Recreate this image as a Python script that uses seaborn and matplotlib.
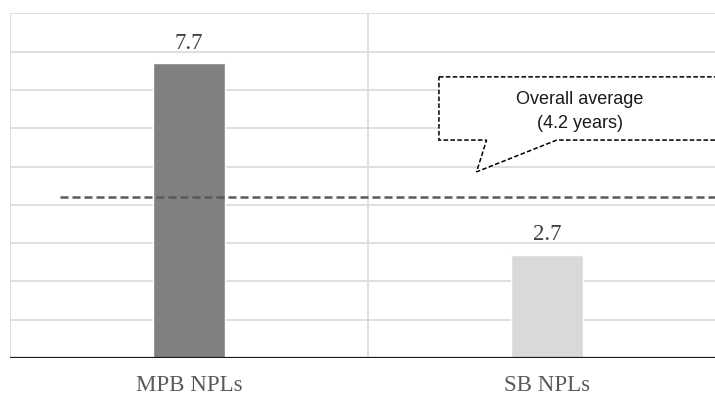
import matplotlib
matplotlib.use("Agg")
import matplotlib.pyplot as plt
from matplotlib.patches import Polygon
import seaborn as sns
import pandas as pd

categories = ["MPB NPLs", "SB NPLs"]
years = [7.7, 2.7]
bar_colors = ["#808080", "#d9d9d9"]
overall_average = 4.2
callout_lines = ["Overall average", "(4.2 years)"]

df = pd.DataFrame({"category": categories, "years": years})

sns.set_theme(style="white")
fig = plt.figure(figsize=(7.15, 3.96), dpi=100)
ax = fig.add_axes([10 / 715, 38 / 396, 705 / 715, 344.7 / 396])

sns.barplot(data=df, x="category", y="years", hue="category",
            palette=bar_colors, width=0.2, ax=ax, legend=False,
            saturation=1, zorder=3)

ax.set_ylim(0, 9)
ax.set_xlim(-0.5, 1.469)

# light horizontal gridlines and category separators, kept behind the bars
for v in range(1, 10):
    ax.axhline(v, color="#d9d9d9", lw=1.2, zorder=1)
for xv in (-0.5, 0.5):
    ax.axvline(xv, color="#d9d9d9", lw=1.2, zorder=1)
ax.axhline(0, color="#1a1a1a", lw=1.6, zorder=4)

for s in ax.spines.values():
    s.set_visible(False)
ax.set_yticks([])
ax.set_xlabel("")
ax.set_ylabel("")
ax.tick_params(axis="x", length=0, pad=12)
for lab in ax.get_xticklabels():
    lab.set_fontfamily("Liberation Serif")
    lab.set_fontsize(16.5)
    lab.set_color("#595959")

# value labels above bars
for i, v in enumerate(years):
    ax.text(i, v + 0.24, f"{v:.1f}", ha="center", va="bottom",
            fontfamily="Liberation Serif", fontsize=16.5, color="#404040",
            zorder=2)

# overall average reference line
ax.plot([-0.36, 1.469], [overall_average, overall_average],
        color="#595959", lw=1.8, ls=(0, (3.2, 1.6)), zorder=4,
        solid_capstyle="butt")

# callout box with pointer
callout = Polygon(
    [(0.698, 7.34), (1.6, 7.34), (1.6, 5.69), (1.027, 5.69),
     (0.803, 4.86), (0.831, 5.69), (0.698, 5.69)],
    closed=True, facecolor="white", edgecolor="black", lw=1.1,
    ls=(0, (3, 1.5)), zorder=5, clip_on=True)
ax.add_patch(callout)
ax.text(1.092, 6.76, callout_lines[0], ha="center", va="center",
        fontfamily="Liberation Sans", fontsize=13, color="#1a1a1a", zorder=6)
ax.text(1.092, 6.13, callout_lines[1], ha="center", va="center",
        fontfamily="Liberation Sans", fontsize=13, color="#1a1a1a", zorder=6)

fig.savefig("out.png", dpi=100)
